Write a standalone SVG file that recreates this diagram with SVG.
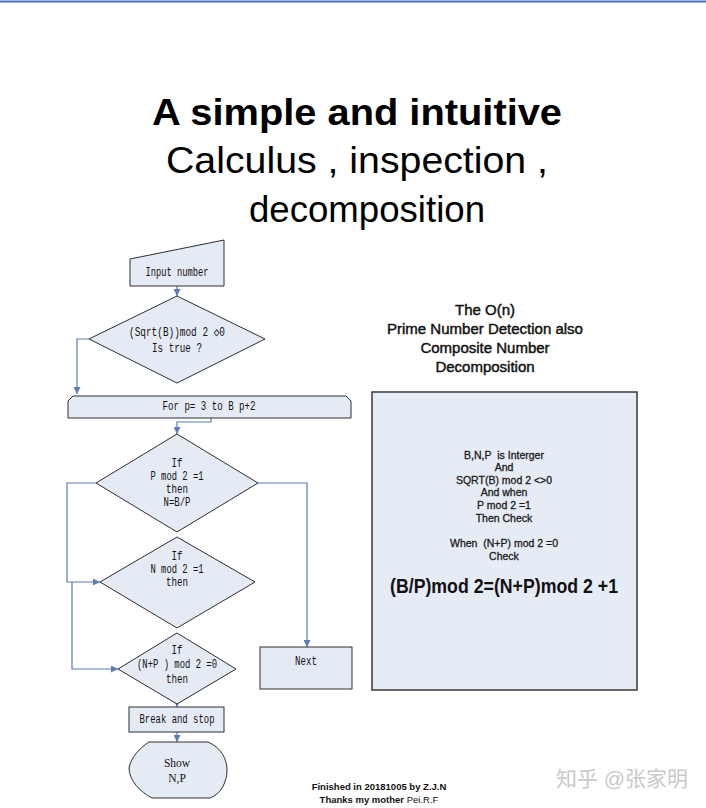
<svg xmlns="http://www.w3.org/2000/svg" width="706" height="808" viewBox="0 0 706 808">
<style>
.shape{fill:#e5ebf5;stroke:#2e2e2e;stroke-width:1}
.conn{fill:none;stroke:#5b7cb5;stroke-width:1.2}
.mono{font-family:"Liberation Mono","DejaVu Sans Mono",monospace;font-size:12.5px;fill:#111;text-anchor:middle}
.serif{font-family:"Liberation Serif",serif;font-size:11.5px;fill:#111;text-anchor:middle}
.head{font-family:"Liberation Sans",Arial,sans-serif;font-size:15px;fill:#111;stroke:#111;stroke-width:0.45;text-anchor:middle}
.small{font-family:"Liberation Sans",Arial,sans-serif;font-size:10.5px;fill:#1a1a1a;stroke:#1a1a1a;stroke-width:0.3;text-anchor:middle}
.foot{font-family:"Liberation Sans",Arial,sans-serif;font-size:9.5px;font-weight:bold;fill:#111;text-anchor:middle}
.title{font-family:"Liberation Sans",Arial,sans-serif;font-size:37px;fill:#000;text-anchor:middle}
</style>
<defs>
<marker id="arr" viewBox="0 0 10 10" refX="10" refY="5" markerWidth="7" markerHeight="7" markerUnits="userSpaceOnUse" orient="auto">
<path d="M0,0 L10,5 L0,10 Z" fill="#5b7cb5"/>
</marker>
</defs>
<rect x="0" y="0" width="706" height="808" fill="#ffffff"/>
<rect x="0" y="0" width="706" height="3" fill="#9fb5e6"/>
<line x1="0" y1="1.5" x2="706" y2="1.5" stroke="#4d6fc4" stroke-width="1.2"/>

<g id="title">
<text class="title" x="357" y="125" font-weight="bold" textLength="410" lengthAdjust="spacingAndGlyphs">A simple and intuitive</text>
<text class="title" x="357" y="173" textLength="382" lengthAdjust="spacingAndGlyphs">Calculus , inspection ,</text>
<text class="title" x="367" y="222" textLength="236" lengthAdjust="spacingAndGlyphs">decomposition</text>
</g>

<g id="connectors">
<path class="conn" d="M177,286 V296" marker-end="url(#arr)"/>
<path class="conn" d="M89,339 H77 V394" marker-end="url(#arr)"/>
<path class="conn" d="M211,418 V422 H177 V434" marker-end="url(#arr)"/>
<path class="conn" d="M258,483 H307 V647" marker-end="url(#arr)"/>
<path class="conn" d="M96,483 H67 V582 H100" marker-end="url(#arr)"/>
<path class="conn" d="M72,582 V669 H118" marker-end="url(#arr)"/>
<path class="conn" d="M177,700 V707" marker-end="url(#arr)"/>
<path class="conn" d="M177,732 V742" marker-end="url(#arr)"/>
</g>

<g id="input">
<path class="shape" d="M130,259 L224,240 V286 H130 Z"/>
<text class="mono" x="177" y="276" textLength="63" lengthAdjust="spacingAndGlyphs">Input number</text>
</g>

<g id="decision-sqrt">
<path class="shape" d="M177,296 L265,339 L177,383 L89,339 Z"/>
<text class="mono" x="177" y="336" textLength="96" lengthAdjust="spacingAndGlyphs">(Sqrt(B))mod 2 ◇0</text>
<text class="mono" x="177" y="352" textLength="50" lengthAdjust="spacingAndGlyphs">Is true ?</text>
</g>

<g id="loop">
<path class="shape" d="M68,418 V401 L73,396 H346 L351,401 V418 Z"/>
<text class="mono" x="209" y="410" textLength="93" lengthAdjust="spacingAndGlyphs">For p= 3 to B p+2</text>
</g>

<g id="decision-p">
<path class="shape" d="M177,434 L258,483 L177,532 L96,483 Z"/>
<text class="mono" x="177" y="467" textLength="11" lengthAdjust="spacingAndGlyphs">If</text>
<text class="mono" x="177" y="480" textLength="53" lengthAdjust="spacingAndGlyphs">P mod 2 =1</text>
<text class="mono" x="177" y="493" textLength="22" lengthAdjust="spacingAndGlyphs">then</text>
<text class="mono" x="177" y="506" textLength="27" lengthAdjust="spacingAndGlyphs">N=B/P</text>
</g>

<g id="decision-n">
<path class="shape" d="M177,537 L255,582 L177,628 L100,582 Z"/>
<text class="mono" x="177" y="560" textLength="11" lengthAdjust="spacingAndGlyphs">If</text>
<text class="mono" x="177" y="573" textLength="53" lengthAdjust="spacingAndGlyphs">N mod 2 =1</text>
<text class="mono" x="177" y="586" textLength="22" lengthAdjust="spacingAndGlyphs">then</text>
</g>

<g id="decision-np">
<path class="shape" d="M177,633 L236,669 L177,704 L118,669 Z"/>
<text class="mono" x="177" y="654" textLength="11" lengthAdjust="spacingAndGlyphs">If</text>
<text class="mono" x="177" y="668" textLength="80" lengthAdjust="spacingAndGlyphs">(N+P ) mod 2 =0</text>
<text class="mono" x="177" y="683" textLength="22" lengthAdjust="spacingAndGlyphs">then</text>
</g>

<g id="break">
<rect class="shape" x="129" y="707" width="95" height="25"/>
<text class="mono" x="177" y="723" textLength="75" lengthAdjust="spacingAndGlyphs">Break and stop</text>
</g>

<g id="show">
<path class="shape" d="M149,742 H208 C222,748 227,760 227,770 C227,782 221,794 210,798 H152 C140,792 129,780 129,768 C131,757 140,748 149,742 Z"/>
<text class="serif" x="177" y="767">Show</text>
<text class="serif" x="177" y="782">N,P</text>
</g>

<g id="next">
<rect class="shape" x="260" y="647" width="92" height="42"/>
<text class="mono" x="306" y="665" textLength="22" lengthAdjust="spacingAndGlyphs">Next</text>
</g>

<g id="heading">
<text class="head" x="485" y="315">The O(n)</text>
<text class="head" x="485" y="334">Prime Number Detection also</text>
<text class="head" x="485" y="353">Composite Number</text>
<text class="head" x="485" y="372">Decomposition</text>
</g>

<g id="note">
<rect x="372" y="392" width="265" height="298" fill="#e6ecf6" stroke="#3a3a3a" stroke-width="1.5"/>
<text class="small" x="504" y="459">B,N,P&#160; is Interger</text>
<text class="small" x="504" y="471">And</text>
<text class="small" x="504" y="484">SQRT(B) mod 2 &lt;&gt;0</text>
<text class="small" x="504" y="496">And when</text>
<text class="small" x="504" y="509">P mod 2 =1</text>
<text class="small" x="504" y="522">Then Check</text>
<text class="small" x="504" y="547">When&#160; (N+P) mod 2 =0</text>
<text class="small" x="504" y="560">Check</text>
<text x="504" y="593" font-family="Liberation Sans, Arial, sans-serif" font-size="20" font-weight="bold" fill="#111" text-anchor="middle" textLength="228" lengthAdjust="spacingAndGlyphs">(B/P)mod 2=(N+P)mod 2 +1</text>
</g>

<g id="footer">
<text class="foot" x="379" y="790">Finished in 20181005 by Z.J.N</text>
<text class="foot" x="379" y="803">Thanks my mother <tspan font-weight="normal">Pei.R.F</tspan></text>
</g>

<g id="watermark">
<text x="622" y="786" font-family="Liberation Sans, 'Noto Sans CJK SC', sans-serif" font-size="21" fill="#c9c9c9" text-anchor="middle">知乎 @张家明</text>
</g>
</svg>
